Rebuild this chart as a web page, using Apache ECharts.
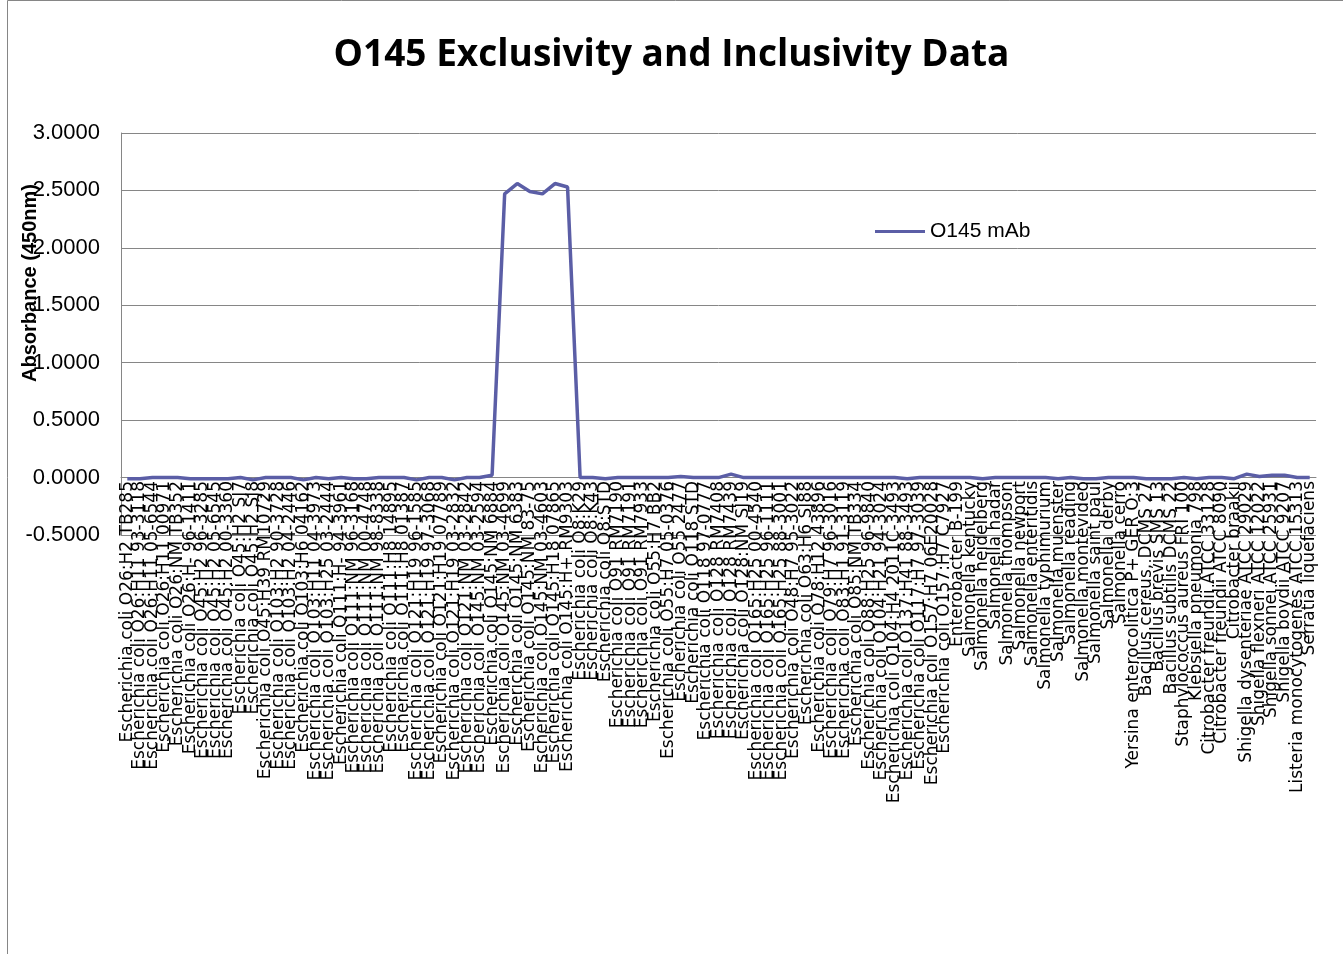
<!DOCTYPE html>
<html>
<head>
<meta charset="utf-8">
<script src="https://cdn.jsdelivr.net/npm/echarts@6/dist/echarts.min.js"></script>
<style>
html,body{margin:0;padding:0;background:#fff;}
#chart{width:1343px;height:954px;}
</style>
</head>
<body>
<div id="chart"></div>
<script>
const chartTitle = 'O145 Exclusivity and Inclusivity Data';
const yAxisName = 'Absorbance (450nm)';
const seriesName = 'O145 mAb';

const categories = [
  'Escherichia coli O26:H2 TB285',
  'Escherichia coli O26:H11 93-3118',
  'Escherichia coli O26:H11 05-6544',
  'Escherichia coli O26:H11 00971',
  'Escherichia coli O26:NM TB352',
  'Escherichia coli O26:H- 96-1411',
  'Escherichia coli O45:H2 96-3285',
  'Escherichia coli O45:H2 05-6545',
  'Escherichia coli O45:H2 00-3360',
  'Escherichia coli O45:H2 SJ7',
  'Escherichia coli O45:H2 SJ8',
  'Escherichia coli O45:H39 RM10729',
  'Escherichia coli O103:H2 90-3728',
  'Escherichia coli O103:H2 04-2446',
  'Escherichia coli O103:H6 04162',
  'Escherichia coli O103:H11 04-3973',
  'Escherichia coli O103:H25 03-2444',
  'Escherichia coli O111:H- 94-3961',
  'Escherichia coli O111:NM 96-3168',
  'Escherichia coli O111:NM 00-4748',
  'Escherichia coli O111:NM 98-8338',
  'Escherichia coli O111:H8 14895',
  'Escherichia coli O111:H8 01387',
  'Escherichia coli O121:H19 96-1585',
  'Escherichia coli O121:H19 97-3068',
  'Escherichia coli O121:H19 07789',
  'Escherichia coli O121:H19 03-2832',
  'Escherichia coli O121:NM 03-2842',
  'Escherichia coli O145:NM 03-2594',
  'Escherichia coli O145:NM 6884',
  'Escherichia coli O145:NM 03-4699',
  'Escherichia coli O145:NM 6383',
  'Escherichia coli O145:NM 83-75',
  'Escherichia coli O145:NM 03-4603',
  'Escherichia coli O145:H18 07865',
  'Escherichia coli O145:H+ RM9303',
  'Escherichia coli O8:K29',
  'Escherichia coli O8:K43',
  'Escherichia coli O8:STD',
  'Escherichia coli O91 RM7190',
  'Escherichia coli O91 RM7191',
  'Escherichia coli O91 RM7933',
  'Escherichia coli O55:H7 BB2',
  'Escherichia coli O55:H7 05-0376',
  'Escherichia coli O55 2477',
  'Escherichia coli O118 STD',
  'Escherichia coli O118 97-0777',
  'Escherichia coli O128 RM7408',
  'Escherichia coli O128 RM7439',
  'Escherichia coli O128:NM SJ19',
  'Escherichia coli O165:H25 00-4540',
  'Escherichia coli O165:H25 96-1111',
  'Escherichia coli O165:H25 88-3001',
  'Escherichia coli O48:H7 95-3022',
  'Escherichia coli O63:H6 SJ88',
  'Escherichia coli O78:H12 43896',
  'Escherichia coli O79:H7 96-3016',
  'Escherichia coli O83:H1 91-3119',
  'Escherichia coli O85:NM TB334',
  'Escherichia coli O88:H25 96-9840',
  'Escherichia coli O104:H21 94-3024',
  'Escherichia coli O104:H4 2011C-3493',
  'Escherichia coli O137:H41 88-3493',
  'Escherichia coli O117:H7 97-3039',
  'Escherichia coli O157:H7 06E20028',
  'Escherichia coli O157:H7 C7927',
  'Enterobacter B-199',
  'Salmonella kentucky',
  'Salmonella heidelberg',
  'Salmonella hadar',
  'Salmonella thompson',
  'Salmonella newport',
  'Salmonella enteritidis',
  'Salmonella typhimurium',
  'Salmonella muenster',
  'Salmonella reading',
  'Salmonella montevideo',
  'Salmonella saint paul',
  'Salmonella derby',
  'Salmonella cerro',
  'Yersina enterocolitica P+ GER O:3',
  'Bacillus cereus, DCMS 27',
  'Bacillus brevis SMS 13',
  'Bacillus subtilis DCMS 22',
  'Staphylococcus aureus FRI 100',
  'Klebsiella pneumonia 798',
  'Citrobacter freundii ATCC 33128',
  'Citrobacter freundii ATCC 8090',
  'Citrobacter braakii',
  'Shigella dysenteriae ATCC 29029',
  'Shigella flexneri ATCC 12022',
  'Shigella sonnei ATCC 25931',
  'Shigella boydii ATCC 9207',
  'Listeria monocytogenes ATCC 15313',
  'Serratia liquefaciens'
];

const values = [
  -0.01, -0.01, 0.00, 0.00, 0.00, -0.01, -0.01, -0.01, -0.01, 0.00,
  -0.02, 0.00, 0.00, 0.00, -0.02, 0.00, -0.01, 0.00, -0.01, -0.01,
  0.00, 0.00, 0.00, -0.02, 0.00, 0.00, -0.02, 0.00, 0.00, 0.02,
  2.47, 2.56, 2.49, 2.47, 2.56, 2.53,
  0.00, 0.00, -0.01, 0.00, 0.00, 0.00, 0.00, 0.00, 0.01, 0.00,
  0.00, 0.00, 0.03, 0.00, 0.00, 0.00, 0.00, 0.00, 0.00, 0.00,
  0.00, 0.00, 0.00, 0.00, 0.00, 0.00, -0.01, 0.00, 0.00, 0.00,
  0.00, 0.00, -0.01, 0.00, 0.00, 0.00, 0.00, 0.00, -0.01, 0.00,
  -0.01, -0.01, 0.00, 0.00, 0.00, -0.01, -0.01, -0.01, 0.00, -0.01,
  0.00, 0.00, -0.01, 0.03, 0.01, 0.02, 0.02, 0.00, 0.00
];

const yTicks = { min: -0.5, max: 3.0, interval: 0.5 };

const chart = echarts.init(document.getElementById('chart'), null, { renderer: 'canvas' });

chart.setOption({
  backgroundColor: '#ffffff',
  animation: false,
  title: {
    text: chartTitle,
    left: 'center',
    top: 32,
    textStyle: { fontFamily: 'Open Sans', fontWeight: 'bold', fontSize: 37, color: '#000' }
  },
  legend: {
    data: [seriesName],
    left: 870,
    top: 216,
    itemWidth: 50,
    itemHeight: 24,
    itemGap: 5,
    icon: 'path://M0,10.5 L50,10.5 L50,13.5 L0,13.5 Z',
    textStyle: { fontFamily: 'Liberation Sans', fontSize: 21, color: '#000' }
  },
  grid: { left: 121, right: 27, top: 133, bottom: 419, containLabel: false, outerBoundsMode: 'none' },
  xAxis: {
    type: 'category',
    data: categories,
    boundaryGap: true,
    offset: -58,
    axisLine: { onZero: false, lineStyle: { color: '#868686', width: 1 } },
    axisTick: { show: false },
    axisLabel: {
      interval: 0,
      rotate: 90,
      margin: 4,
      fontFamily: 'DejaVu Sans',
      fontSize: 17,
      color: '#000'
    },
    splitLine: { show: false }
  },
  yAxis: {
    type: 'value',
    min: yTicks.min,
    max: yTicks.max,
    interval: yTicks.interval,
    axisLine: { show: true, lineStyle: { color: '#868686' } },
    axisTick: { show: false },
    axisLabel: {
      margin: 21,
      fontFamily: 'Liberation Sans',
      fontSize: 22,
      color: '#000',
      formatter: v => v.toFixed(4)
    },
    splitLine: { show: true, lineStyle: { color: '#868686', width: 1 } }
  },
  series: [{
    name: seriesName,
    type: 'line',
    data: values,
    symbol: 'none',
    lineStyle: { color: '#5B5EA6', width: 3.5 },
    itemStyle: { color: '#5B5EA6' }
  }],
  graphic: [{
    type: 'rect',
    shape: { x: 7.5, y: 0.5, width: 1400, height: 960 },
    style: { fill: 'none', stroke: '#868686', lineWidth: 1 },
    silent: true
  }, {
    type: 'text',
    x: 30,
    y: 283,
    rotation: Math.PI / 2,
    style: {
      text: yAxisName,
      fontFamily: 'Liberation Sans',
      fontWeight: 'bold',
      fontSize: 20,
      fill: '#000',
      align: 'center',
      verticalAlign: 'middle'
    },
    silent: true
  }]
});
</script>
</body>
</html>
